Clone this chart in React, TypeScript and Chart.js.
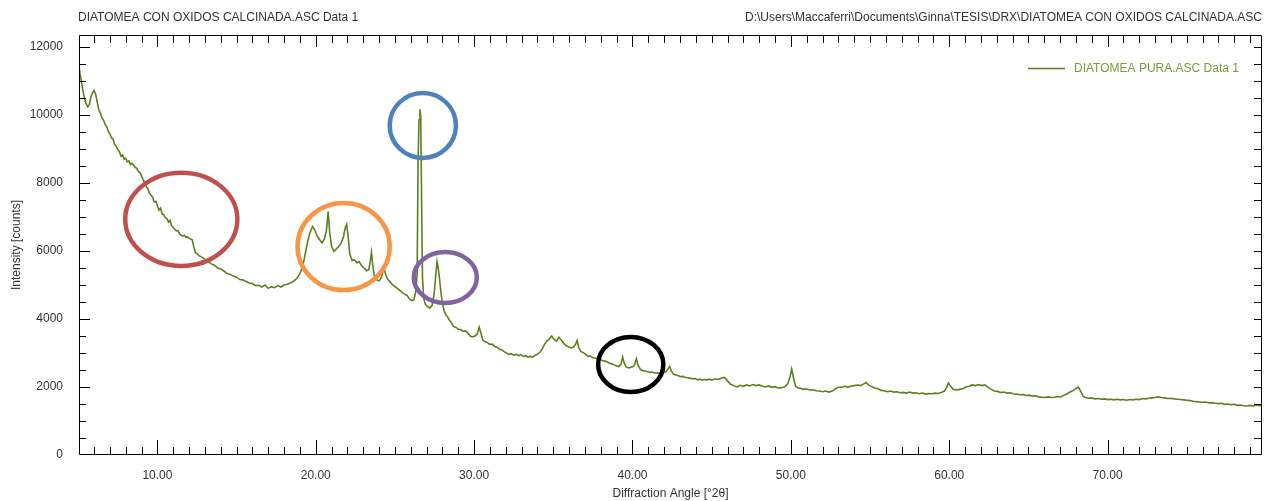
import React, { useEffect, useRef } from 'react';
import { Chart, registerables } from 'chart.js';

Chart.register(...registerables);

const FONT_FAMILY = '"Liberation Sans", Arial, sans-serif';
const TEXT_COLOR = '#333333';
const LINE_COLOR = '#5f7e1e';
const LEGEND_TEXT_COLOR = '#7b9a3a';

const headerLeft = 'DIATOMEA CON OXIDOS CALCINADA.ASC Data 1';
const headerRight = 'D:\\Users\\Maccaferri\\Documents\\Ginna\\TESIS\\DRX\\DIATOMEA CON OXIDOS CALCINADA.ASC';
const seriesLabel = 'DIATOMEA PURA.ASC Data 1';
const xAxisTitle = 'Diffraction Angle [°2θ]';
const yAxisTitle = 'Intensity [counts]';

// Scan range (°2θ and counts)
const angleMin = 5.05;
const angleMax = 79.75;
const countMin = 0;
const countMax = 12350;

// Labelled ticks
const angleTicks = [10, 20, 30, 40, 50, 60, 70];
const countTicks = [0, 2000, 4000, 6000, 8000, 10000, 12000];
// Unlabelled tick spacing
const angleMinorStep = 1;
const countMinorStep = 500;

// [2θ, counts] — falling low-angle background
const lowAngleScan: [number, number][] = [
  [5.05, 11450], [5.12, 11200], [5.2, 10980], [5.3, 10700], [5.4, 10480], [5.5, 10330],
  [5.6, 10240], [5.7, 10300], [5.8, 10520], [5.9, 10650], [6.0, 10720], [6.1, 10610],
  [6.2, 10380], [6.3, 10150], [6.4, 10060], [6.5, 9920], [6.6, 9850], [6.7, 9720],
  [6.8, 9650], [6.9, 9520], [7.0, 9440], [7.1, 9330], [7.2, 9290], [7.3, 9130],
  [7.4, 9080], [7.5, 8980], [7.6, 8920], [7.7, 8790], [7.8, 8820], [7.9, 8700],
  [8.0, 8730], [8.1, 8620], [8.2, 8650], [8.3, 8540], [8.4, 8580], [8.5, 8520],
  [8.6, 8460], [8.7, 8430], [8.8, 8330], [8.9, 8310], [9.0, 8200], [9.1, 8100],
  [9.2, 8010], [9.3, 7900], [9.4, 7820], [9.5, 7700], [9.6, 7640], [9.7, 7580],
  [9.8, 7440], [9.9, 7460], [10.0, 7320], [10.1, 7200], [10.2, 7260], [10.3, 7090],
  [10.4, 7060], [10.5, 6980], [10.6, 6950], [10.7, 6850], [10.8, 6900], [10.9, 6740],
  [11.0, 6690], [11.1, 6640], [11.2, 6590], [11.3, 6600], [11.4, 6500], [11.5, 6470],
  [11.6, 6440], [11.7, 6460], [11.8, 6400], [11.9, 6420], [12.0, 6370], [12.1, 6350],
  [12.2, 6330], [12.3, 6120], [12.4, 5950], [12.5, 5920], [12.6, 5870], [12.8, 5820],
  [13.0, 5760], [13.2, 5690], [13.4, 5620], [13.6, 5580], [13.8, 5500], [14.0, 5470],
  [14.2, 5410], [14.4, 5340], [14.6, 5310], [14.8, 5260], [15.0, 5230], [15.2, 5160],
  [15.4, 5150], [15.6, 5100], [15.8, 5060], [16.0, 5040], [16.2, 4980], [16.4, 4990],
  [16.6, 4940], [16.8, 5000], [17.0, 4900], [17.2, 4950], [17.4, 4920], [17.6, 4980],
  [17.8, 4940], [18.0, 5000], [18.2, 5020], [18.4, 5060], [18.6, 5110], [18.8, 5190],
  [19.0, 5330],
];

// [2θ, counts] — amorphous hump with superimposed reflections
const amorphousHumpScan: [number, number][] = [
  [19.2, 5600], [19.35, 5950], [19.5, 6300], [19.65, 6560], [19.8, 6720], [19.95, 6600],
  [20.1, 6430], [20.25, 6330], [20.4, 6240], [20.55, 6360], [20.68, 6620], [20.78, 7160],
  [20.88, 6550], [21.0, 6130], [21.15, 5990], [21.3, 6060], [21.45, 6130], [21.6, 6230],
  [21.75, 6420], [21.87, 6700], [21.95, 6780], [22.05, 6400], [22.15, 5900], [22.3, 5720],
  [22.45, 5740], [22.6, 5650], [22.75, 5680], [22.9, 5560], [23.05, 5500], [23.2, 5420],
  [23.35, 5450], [23.45, 5720], [23.52, 5960], [23.6, 5580], [23.7, 5260], [23.85, 5150],
  [24.0, 5120], [24.15, 5220], [24.3, 5520], [24.42, 5300], [24.55, 5160], [24.7, 5090],
  [24.85, 5000], [25.0, 4950], [25.15, 4900], [25.3, 4840], [25.45, 4780], [25.6, 4730],
  [25.75, 4700], [25.9, 4600], [26.05, 4540], [26.2, 4560],
];

// [2θ, counts] — main quartz reflection and its neighbour
const quartzScan: [number, number][] = [
  [26.3, 4780], [26.4, 5300], [26.46, 8600], [26.52, 9850], [26.58, 10170], [26.63, 9950],
  [26.68, 7600], [26.74, 5200], [26.82, 4600], [26.92, 4430], [27.05, 4370],
  [27.2, 4320], [27.35, 4400], [27.48, 4750], [27.58, 5300], [27.66, 5690], [27.72, 5550],
  [27.8, 5250], [27.9, 4800], [28.0, 4450], [28.1, 4250], [28.2, 4130], [28.3, 4080],
  [28.4, 3990],
];

// [2θ, counts] — mid-angle region
const midAngleScan: [number, number][] = [
  [28.55, 3900], [28.7, 3780], [28.85, 3750], [29.0, 3700], [29.15, 3690], [29.3, 3640],
  [29.45, 3650], [29.6, 3590], [29.75, 3500], [29.9, 3470], [30.05, 3500], [30.2, 3560],
  [30.32, 3760], [30.42, 3600], [30.55, 3380], [30.7, 3330], [30.85, 3300], [31.0, 3250],
  [31.15, 3260], [31.3, 3190], [31.45, 3170], [31.6, 3110], [31.75, 3090], [31.9, 3040],
  [32.05, 3000], [32.2, 2960], [32.35, 2980], [32.5, 2930], [32.65, 2960], [32.8, 2920],
  [32.95, 2950], [33.1, 2900], [33.25, 2920], [33.4, 2880], [33.55, 2900], [33.7, 2880],
  [33.85, 2930], [34.0, 2960], [34.15, 3020], [34.3, 3120], [34.45, 3260], [34.6, 3350],
  [34.75, 3420], [34.9, 3500], [35.05, 3400], [35.2, 3350], [35.35, 3460], [35.5, 3380],
  [35.65, 3290], [35.8, 3220], [35.95, 3180], [36.1, 3150], [36.25, 3170], [36.4, 3250],
  [36.5, 3370], [36.6, 3160], [36.75, 3040], [36.9, 3010], [37.05, 2960], [37.2, 2900],
  [37.35, 2910], [37.5, 2860], [37.65, 2850], [37.8, 2820], [37.95, 2810], [38.1, 2780],
  [38.25, 2760], [38.4, 2740], [38.55, 2700], [38.7, 2680], [38.85, 2650], [39.0, 2620],
  [39.15, 2600], [39.28, 2680], [39.38, 2880], [39.48, 2700], [39.6, 2590], [39.75, 2560],
  [39.9, 2580], [40.05, 2600], [40.15, 2680], [40.25, 2830], [40.35, 2640], [40.5, 2520],
  [40.65, 2480], [40.8, 2470], [40.95, 2450], [41.1, 2430], [41.25, 2440], [41.4, 2410],
  [41.55, 2420], [41.7, 2400], [41.85, 2420], [42.0, 2430], [42.15, 2460], [42.25, 2540],
  [42.35, 2610], [42.45, 2470], [42.6, 2370], [42.75, 2350], [42.9, 2330], [43.05, 2300],
  [43.2, 2310], [43.35, 2280], [43.5, 2270], [43.65, 2260], [43.8, 2240], [43.95, 2250],
  [44.1, 2210], [44.25, 2230], [44.4, 2200], [44.55, 2220], [44.7, 2210], [44.85, 2230],
  [45.0, 2200],
];

// [2θ, counts] — high-angle tail
const highAngleScan: [number, number][] = [
  [45.2, 2240], [45.4, 2220], [45.6, 2260], [45.8, 2280], [46.0, 2180], [46.2, 2080],
  [46.4, 2040], [46.6, 2000], [46.8, 2050], [47.0, 2020], [47.2, 2060], [47.4, 2030],
  [47.6, 2070], [47.8, 2040], [48.0, 2060], [48.2, 2020], [48.4, 2000], [48.6, 2030],
  [48.8, 1990], [49.0, 2010], [49.2, 1970], [49.4, 1980], [49.6, 2000], [49.8, 2090],
  [49.95, 2300], [50.05, 2530], [50.15, 2300], [50.3, 2020], [50.45, 1970], [50.6, 1960],
  [50.8, 1930], [51.0, 1940], [51.2, 1910], [51.4, 1920], [51.6, 1890], [51.8, 1880],
  [52.0, 1860], [52.2, 1880], [52.4, 1850], [52.6, 1880], [52.8, 1940], [53.0, 1990],
  [53.2, 1990], [53.4, 2020], [53.6, 1990], [53.8, 2030], [54.0, 2040], [54.2, 2060],
  [54.4, 2040], [54.6, 2090], [54.75, 2130], [54.9, 2060], [55.1, 2010], [55.3, 1970],
  [55.5, 1950], [55.7, 1900], [55.9, 1890], [56.1, 1860], [56.3, 1880], [56.5, 1850],
  [56.7, 1860], [56.9, 1830], [57.1, 1840], [57.3, 1820], [57.5, 1850], [57.7, 1820],
  [57.9, 1830], [58.1, 1800], [58.3, 1820], [58.5, 1790], [58.7, 1810], [58.9, 1800],
  [59.1, 1820], [59.3, 1810], [59.5, 1840], [59.7, 1880], [59.85, 2000], [59.95, 2120],
  [60.1, 2010], [60.25, 1930], [60.45, 1910], [60.65, 1930], [60.85, 1950], [61.05, 2000],
  [61.25, 2020], [61.45, 2060], [61.65, 2040], [61.85, 2070], [62.05, 2040], [62.25, 2060],
  [62.45, 1990], [62.65, 1930], [62.85, 1880], [63.05, 1870], [63.25, 1840], [63.45, 1850],
  [63.65, 1820], [63.85, 1830], [64.05, 1800], [64.25, 1790], [64.45, 1770], [64.65, 1780],
  [64.85, 1750], [65.05, 1760], [65.25, 1730], [65.45, 1740], [65.65, 1710], [65.85, 1700],
  [66.05, 1690], [66.25, 1710], [66.45, 1690], [66.65, 1700], [66.85, 1720], [67.05, 1710],
  [67.25, 1760], [67.45, 1800], [67.65, 1860], [67.85, 1900], [68.0, 1960], [68.15, 2000],
  [68.3, 1880], [68.45, 1730], [68.6, 1690], [68.8, 1670], [69.0, 1680], [69.2, 1650],
  [69.4, 1660], [69.6, 1640], [69.8, 1650], [70.0, 1630], [70.2, 1640], [70.4, 1620],
  [70.6, 1640], [70.8, 1620], [71.0, 1630], [71.2, 1610], [71.4, 1630], [71.6, 1620],
  [71.8, 1640], [72.0, 1630], [72.2, 1660], [72.4, 1650], [72.6, 1670], [72.8, 1680],
  [73.0, 1690], [73.2, 1710], [73.4, 1690], [73.6, 1680], [73.8, 1660], [74.0, 1670],
  [74.2, 1650], [74.4, 1640], [74.6, 1630], [74.8, 1620], [75.0, 1610], [75.2, 1600],
  [75.4, 1580], [75.6, 1570], [75.8, 1560], [76.0, 1550], [76.2, 1560], [76.4, 1530],
  [76.6, 1540], [76.8, 1520], [77.0, 1510], [77.2, 1520], [77.4, 1490], [77.6, 1500],
  [77.8, 1480], [78.0, 1490], [78.2, 1460], [78.4, 1470], [78.6, 1450], [78.8, 1440],
  [79.0, 1460], [79.2, 1440], [79.4, 1470], [79.6, 1450], [79.75, 1460],
];

// Highlight rings, centre and radii in data units (°2θ, counts)
const highlightRings = [
  { color: '#c0504d', cx: 11.51, cy: 6930, rx: 3.54, ry: 1370 },
  { color: '#f79646', cx: 21.76, cy: 6130, rx: 2.91, ry: 1280 },
  { color: '#4f81bd', cx: 26.76, cy: 9690, rx: 2.09, ry: 955 },
  { color: '#8064a2', cx: 28.18, cy: 5220, rx: 1.99, ry: 750 },
  { color: '#000000', cx: 39.89, cy: 2660, rx: 2.06, ry: 810 },
];

const scanPoints = [lowAngleScan, amorphousHumpScan, quartzScan, midAngleScan, highAngleScan]
  .flat()
  .map(([x, y]) => ({ x, y }));

const font = (size: number) => `${size}px ${FONT_FAMILY}`;

// Frame around the plot with inward tick marks on all four sides
const framePlugin = {
  id: 'frame',
  afterDatasetsDraw(chart: any) {
    const { ctx, chartArea, scales } = chart;
    const { left, right, top, bottom } = chartArea;
    const xs = scales.x;
    const ys = scales.y;
    ctx.save();
    ctx.strokeStyle = '#000';
    ctx.lineWidth = 1;
    ctx.beginPath();
    ctx.rect(Math.round(left) + 0.5, Math.round(top) + 0.5, Math.round(right - left) - 1, Math.round(bottom - top) - 1);
    ctx.stroke();
    ctx.beginPath();
    for (let v = Math.ceil(angleMin); v <= angleMax; v += angleMinorStep) {
      const px = Math.round(xs.getPixelForValue(v)) + 0.5;
      const major = angleTicks.includes(v);
      ctx.moveTo(px, bottom);
      ctx.lineTo(px, bottom - (major ? 15 : 8));
      ctx.moveTo(px, top);
      ctx.lineTo(px, top + (major ? 12 : 8));
    }
    for (let v = countMinorStep; v <= countMax; v += countMinorStep) {
      const py = Math.round(ys.getPixelForValue(v)) + 0.5;
      const major = countTicks.includes(v);
      ctx.moveTo(left, py);
      ctx.lineTo(left + (major ? 11 : 7), py);
      ctx.moveTo(right, py);
      ctx.lineTo(right - 8, py);
    }
    ctx.stroke();
    ctx.restore();
  },
};

// File names above the plot
const headerPlugin = {
  id: 'header',
  afterDraw(chart: any) {
    const { ctx, chartArea } = chart;
    ctx.save();
    ctx.font = font(12);
    ctx.fillStyle = TEXT_COLOR;
    ctx.textBaseline = 'middle';
    ctx.textAlign = 'left';
    ctx.fillText(headerLeft, chartArea.left - 1, 18);
    ctx.textAlign = 'right';
    ctx.fillText(headerRight, chartArea.right, 18);
    ctx.restore();
  },
};

// Series key in the upper-right corner of the plot
const keyPlugin = {
  id: 'seriesKey',
  afterDraw(chart: any) {
    const { ctx, chartArea } = chart;
    const ds = chart.data.datasets[0];
    const y = chartArea.top + 33.5;
    const x0 = chartArea.right - 234;
    ctx.save();
    ctx.strokeStyle = ds.borderColor;
    ctx.lineWidth = 1.3;
    ctx.beginPath();
    ctx.moveTo(x0, y);
    ctx.lineTo(x0 + 37, y);
    ctx.stroke();
    ctx.font = font(12);
    ctx.fillStyle = LEGEND_TEXT_COLOR;
    ctx.textBaseline = 'middle';
    ctx.textAlign = 'left';
    ctx.fillText(ds.label, x0 + 46, y);
    ctx.restore();
  },
};

// Coloured rings marking regions of interest
const ringsPlugin = {
  id: 'rings',
  afterDatasetsDraw(chart: any) {
    const { ctx, scales } = chart;
    const xs = scales.x;
    const ys = scales.y;
    ctx.save();
    ctx.lineWidth = 4.5;
    for (const r of highlightRings) {
      const cx = xs.getPixelForValue(r.cx);
      const cy = ys.getPixelForValue(r.cy);
      const rx = Math.abs(xs.getPixelForValue(r.cx + r.rx) - cx);
      const ry = Math.abs(ys.getPixelForValue(r.cy + r.ry) - cy);
      ctx.strokeStyle = r.color;
      ctx.beginPath();
      ctx.ellipse(cx, cy, rx, ry, 0, 0, Math.PI * 2);
      ctx.stroke();
    }
    ctx.restore();
  },
};

export default function App() {
  const canvasRef = useRef<HTMLCanvasElement | null>(null);

  useEffect(() => {
    const canvas = canvasRef.current;
    if (!canvas) return;
    const chart = new Chart(canvas, {
      type: 'line',
      data: {
        datasets: [
          {
            label: seriesLabel,
            data: scanPoints,
            borderColor: LINE_COLOR,
            borderWidth: 1.6,
            pointRadius: 0,
            tension: 0,
            fill: false,
          },
        ],
      },
      options: {
        responsive: false,
        animation: false,
        events: [],
        layout: { padding: { top: 35, right: 13, bottom: 0, left: 0 } },
        plugins: {
          legend: { display: false },
          tooltip: { enabled: false },
          title: { display: false },
        },
        scales: {
          x: {
            type: 'linear',
            min: angleMin,
            max: angleMax,
            afterFit: (s: any) => {
              s.height = 46;
            },
            afterBuildTicks: (s: any) => {
              s.ticks = angleTicks.map((value) => ({ value }));
            },
            grid: { display: false },
            border: { display: false },
            ticks: {
              autoSkip: false,
              maxRotation: 0,
              padding: 5,
              color: TEXT_COLOR,
              font: { family: FONT_FAMILY, size: 12 },
              callback: (v: any) => Number(v).toFixed(2),
            },
            title: {
              display: true,
              text: xAxisTitle,
              color: TEXT_COLOR,
              font: { family: FONT_FAMILY, size: 12 },
              padding: { top: 0, bottom: 0 },
            },
          },
          y: {
            type: 'linear',
            min: countMin,
            max: countMax,
            afterFit: (s: any) => {
              s.width = 79;
            },
            afterBuildTicks: (s: any) => {
              s.ticks = countTicks.map((value) => ({ value }));
            },
            grid: { display: false },
            border: { display: false },
            ticks: {
              autoSkip: false,
              padding: 8,
              color: TEXT_COLOR,
              font: { family: FONT_FAMILY, size: 12 },
              callback: (v: any) => String(v),
            },
            title: {
              display: true,
              text: yAxisTitle,
              color: TEXT_COLOR,
              font: { family: FONT_FAMILY, size: 12 },
              padding: { top: 9, bottom: 0 },
            },
          },
        },
      },
      plugins: [framePlugin, ringsPlugin, headerPlugin, keyPlugin],
    });
    return () => chart.destroy();
  }, []);

  return (
    <div style={{ position: 'fixed', left: 0, top: 0, width: 1275, height: 501, background: '#fff' }}>
      <canvas ref={canvasRef} width={1275} height={501} style={{ display: 'block' }} />
    </div>
  );
}
